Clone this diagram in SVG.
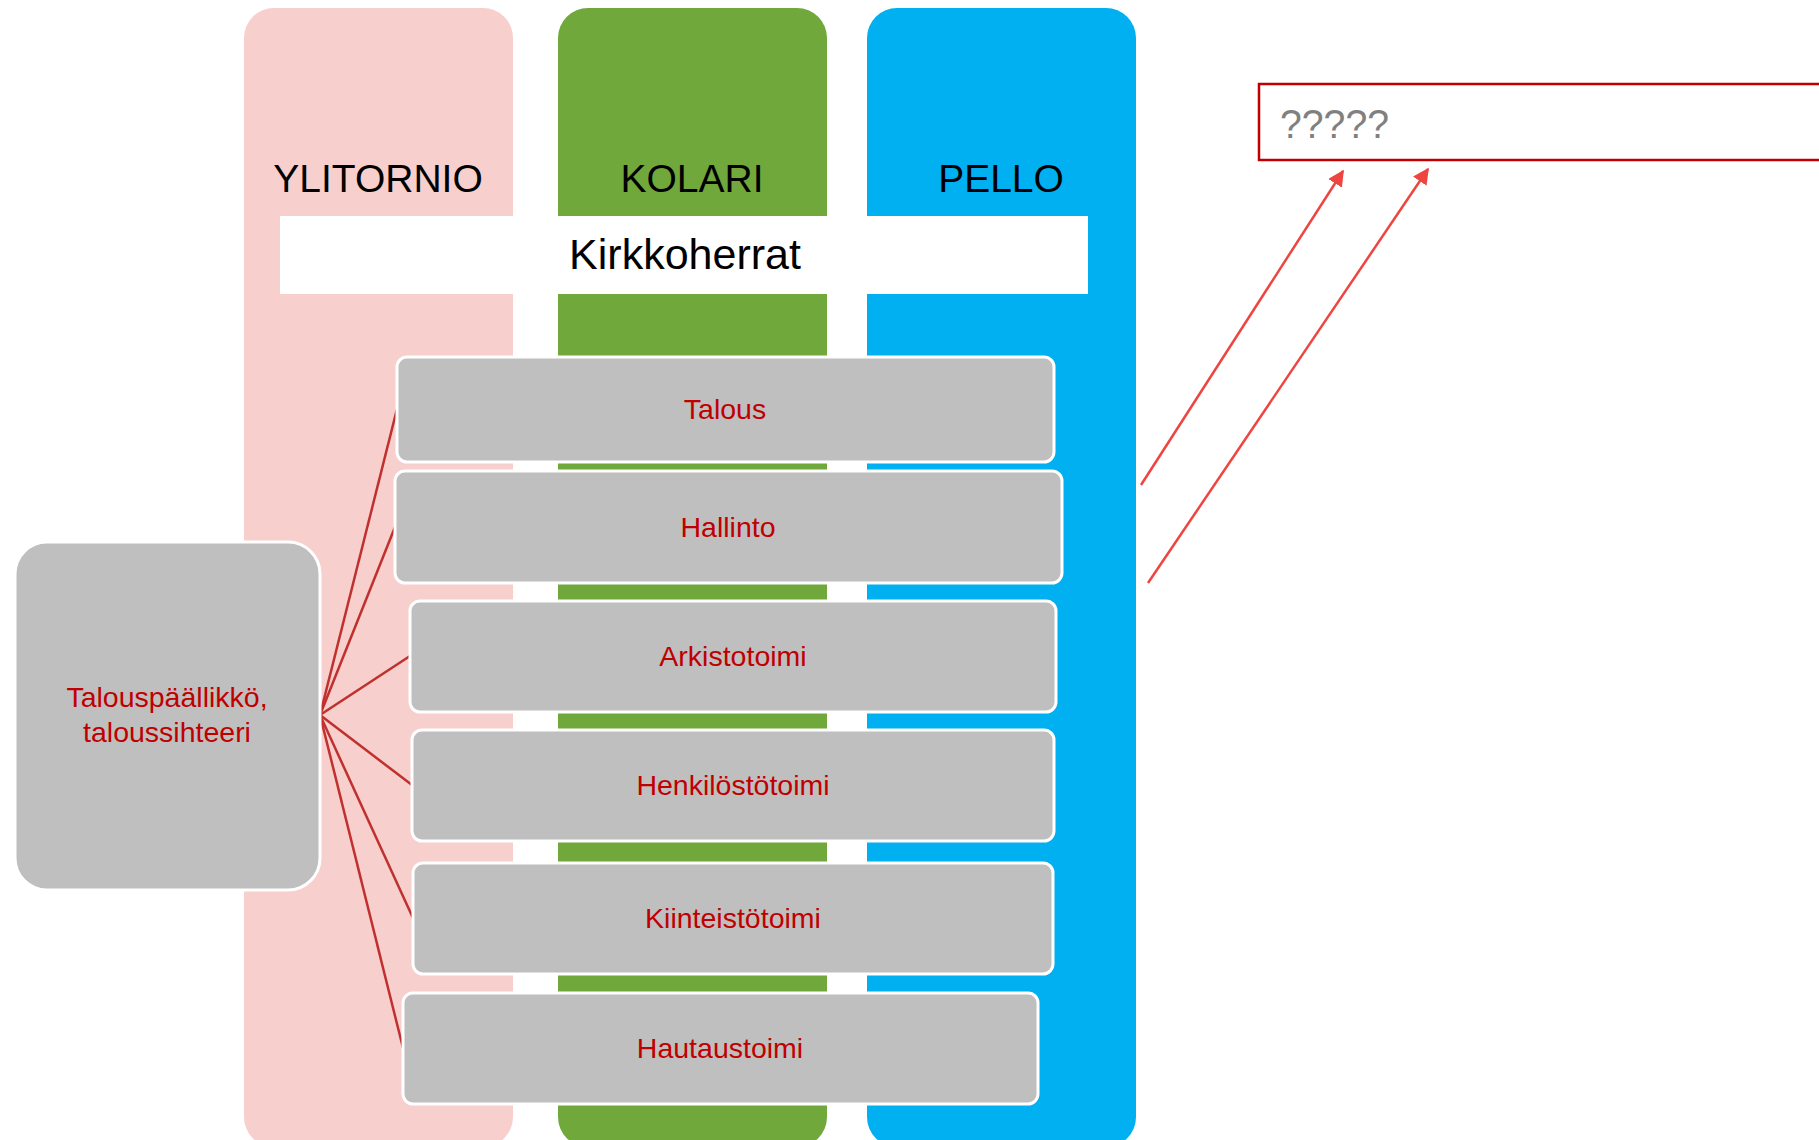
<svg xmlns="http://www.w3.org/2000/svg" width="1819" height="1140" viewBox="0 0 1819 1140">
<defs>
<style>
.title{font-family:"Liberation Sans",Arial,sans-serif;font-size:39px;fill:#000;text-anchor:middle}
.box{fill:#BFBFBF;stroke:#FFFFFF;stroke-width:3}
.lbl{font-family:"Liberation Sans",Arial,sans-serif;font-size:28.5px;fill:#C00000;text-anchor:middle}
.fan{stroke:#C0302E;stroke-width:2.5;fill:none}
.arr{stroke:#EE4540;stroke-width:2.5;fill:none;marker-end:url(#ah)}
</style>
<marker id="ah" viewBox="0 0 10 10" refX="9" refY="5" markerWidth="6.5" markerHeight="6.5" markerUnits="strokeWidth" orient="auto">
<path d="M0,0 L10,5 L0,10 z" fill="#EE4540"/>
</marker>
</defs>
<rect width="1819" height="1140" fill="#FFFFFF"/>
<g id="columns">
<g id="col-ylitornio">
<rect x="244" y="8" width="269" height="1139" rx="30" fill="#F7CFCD"/>
<text class="title" x="378" y="192">YLITORNIO</text>
</g>
<g id="col-kolari">
<rect x="558" y="8" width="269" height="1139" rx="30" fill="#70A83B"/>
<text class="title" x="692" y="192">KOLARI</text>
</g>
<g id="col-pello">
<rect x="867" y="8" width="269" height="1139" rx="30" fill="#00B0F0"/>
<text class="title" x="1001" y="192">PELLO</text>
</g>
</g>
<g id="kirkkoherrat">
<rect x="280" y="216" width="808" height="78" fill="#FFFFFF"/>
<text x="685" y="269" font-family="Liberation Sans, Arial, sans-serif" font-size="43" fill="#000" text-anchor="middle">Kirkkoherrat</text>
</g>
<g id="connectors">
<line class="fan" x1="320" y1="715" x2="397" y2="409"/>
<line class="fan" x1="320" y1="715" x2="395" y2="527"/>
<line class="fan" x1="320" y1="715" x2="410" y2="656"/>
<line class="fan" x1="320" y1="715" x2="412" y2="785"/>
<line class="fan" x1="320" y1="715" x2="413" y2="918"/>
<line class="fan" x1="320" y1="715" x2="403" y2="1048"/>
<line class="arr" x1="1141" y1="485" x2="1343" y2="171"/>
<line class="arr" x1="1148" y1="583" x2="1428" y2="169"/>
</g>
<g id="talous">
<rect class="box" x="397" y="357" width="657" height="105" rx="10"/>
<text class="lbl" x="725" y="419">Talous</text>
</g>
<g id="hallinto">
<rect class="box" x="395" y="471" width="667" height="112" rx="10"/>
<text class="lbl" x="728" y="537">Hallinto</text>
</g>
<g id="arkistotoimi">
<rect class="box" x="410" y="601" width="646" height="111" rx="10"/>
<text class="lbl" x="733" y="666">Arkistotoimi</text>
</g>
<g id="henkilostotoimi">
<rect class="box" x="412" y="730" width="642" height="111" rx="10"/>
<text class="lbl" x="733" y="795">Henkilöstötoimi</text>
</g>
<g id="kiinteistotoimi">
<rect class="box" x="413" y="863" width="640" height="111" rx="10"/>
<text class="lbl" x="733" y="928">Kiinteistötoimi</text>
</g>
<g id="hautaustoimi">
<rect class="box" x="403" y="993" width="635" height="111" rx="10"/>
<text class="lbl" x="720" y="1058">Hautaustoimi</text>
</g>
<g id="talouspaallikko">
<rect class="box" x="15" y="542" width="305" height="348" rx="32"/>
<text class="lbl" x="167" y="707">Talouspäällikkö,</text>
<text class="lbl" x="167" y="742">taloussihteeri</text>
</g>
<g id="unknown">
<rect x="1259" y="84" width="620" height="76" fill="#FFFFFF" stroke="#C00000" stroke-width="2.5"/>
<text x="1280" y="138" font-family="Liberation Sans, Arial, sans-serif" font-size="40" fill="#808080" textLength="109" lengthAdjust="spacingAndGlyphs">?????</text>
</g>
</svg>
